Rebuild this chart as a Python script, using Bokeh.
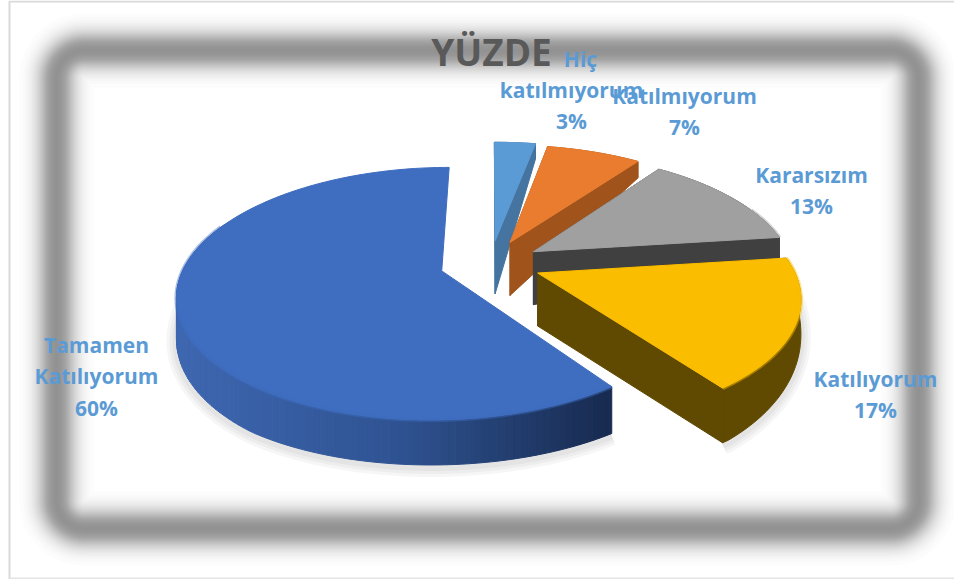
import math
from bokeh.plotting import figure
from bokeh.models import Range1d
from bokeh.core.properties import value
from bokeh.embed import file_html
from bokeh.resources import INLINE

# ---------- data ----------
title_text = "YÜZDE"
categories = ["Hiç katılmıyorum", "Katılmıyorum", "Kararsızım", "Katılıyorum", "Tamamen Katılıyorum"]
values = [3, 7, 13, 17, 60]
label_lines = ["katılmıyorum", "Katılmıyorum", "Kararsızım", "Katılıyorum", "Tamamen\nKatılıyorum"]
extra_line = "Hiç"
top_colors = ["#5b9bd5", "#e97c2e", "#a0a0a0", "#fbbd00", "#3f6dbf"]
wall_colors = ["#44749f", "#a0541c", "#404040", "#604900", "#1a2e55"]

# ---------- projection (page pixels) ----------
X0, Y0, A, B, K, EXPLODE = 490, 263, 267, 124.5, 0.186, 0.19
slice_radius = [1.0, 0.98, 0.97, 0.95, 0.96]
DEPTH_SLICE = [(-1.0, 15), (-0.1, 22), (0.3, 38), (0.8, 55), (1.0, 47)]
DEPTH_BLUE = [(-1.0, 15), (-0.1, 36), (0.3, 42), (0.8, 47), (1.0, 45)]


def proj(U, V):
    w = 1 - K * V
    return X0 + A * U / w, Y0 + B * V / w


def rim_depth(v, pts):
    for (a, da), (b, db) in zip(pts, pts[1:]):
        if v <= b:
            return da + (db - da) * (v - a) / (b - a)
    return pts[-1][1]


APEX_DEPTH = 53

p = figure(width=954, height=579, output_backend="svg", toolbar_location=None,
           x_range=Range1d(0, 954), y_range=Range1d(579, 0),
           min_border=0, outline_line_color=None, background_fill_color="white")
p.axis.visible = False
p.grid.visible = False

# blurred frame
L, T, R_, Bt, RAD = 56, 50, 918, 528, 28
fx, fy = [], []
for cx, cy, a0 in [(R_ - RAD, T + RAD, -90), (R_ - RAD, Bt - RAD, 0), (L + RAD, Bt - RAD, 90), (L + RAD, T + RAD, 180)]:
    for i in range(13):
        t = math.radians(a0 + 7.5 * i)
        fx.append(cx + RAD * math.cos(t))
        fy.append(cy + RAD * math.sin(t))
LAYER = 0.012
for i in range(1, 41):
    lvl = 1 - (1 - LAYER) ** i
    d = 20 * math.sqrt(max(-math.log(min(lvl / 0.385, 0.999)), 0.002))
    p.patch(fx, fy, fill_color=None, line_color="black", line_alpha=LAYER,
            line_width=max(2 * d, 1.5), line_join="round")

# page border of the picture
p.line([9, 9, 954], [579, 1, 1], line_color="#d9d9d9", line_width=2)
p.line([9, 954], [578, 578], line_color="#e4e4e4", line_width=2)

# slices
total = sum(values)
start = 0.0
slices = []
for val in values:
    end = start + val / total * 360
    slices.append((start, end))
    start = end


def arc_pts(idx, t0, t1, step=1.5):
    s0, s1 = slices[idx]
    mid = math.radians((s0 + s1) / 2)
    eu, ev = EXPLODE * math.sin(mid), -EXPLODE * math.cos(mid)
    r = slice_radius[idx]
    table = DEPTH_BLUE if idx == 4 else DEPTH_SLICE
    n = max(int((t1 - t0) / step), 1)
    out = []
    for i in range(n + 1):
        th = math.radians(t0 + (t1 - t0) * i / n)
        loc = -math.cos(th)
        x, y = proj(eu + r * math.sin(th), ev + r * loc)
        out.append((x, y, rim_depth(loc, table), loc))
    return out, proj(eu, ev)


# soft shadow under the two front slices
for idx in (4, 3):
    pts, _ = arc_pts(idx, *slices[idx])
    pts = [q for q in pts if q[3] > -0.4]
    sx = [q[0] for q in pts]
    sy = [q[1] + q[2] for q in pts]
    for w in (20, 14, 8):
        p.line(sx, [y + 2 for y in sy], line_color="black", line_alpha=0.035, line_width=w)

for idx in range(len(values)):
    t0, t1 = slices[idx]
    pts, (ax, ay) = arc_pts(idx, t0, t1)
    # outer rim
    if idx == 4:
        xs, ys, cols = [], [], []
        stops = [(173, (0x3f, 0x68, 0xb2)), (400, (0x2f, 0x53, 0x92)), (610, (0x18, 0x2b, 0x50))]
        for a, b in zip(pts, pts[1:]):
            if a[3] < -0.4:
                continue
            xs.append([a[0], b[0], b[0], a[0]])
            ys.append([a[1], b[1], b[1] + b[2], a[1] + a[2]])
            xm = (a[0] + b[0]) / 2
            c = stops[-1][1]
            for (x1, c1), (x2, c2) in zip(stops, stops[1:]):
                if xm <= x2:
                    f = max((xm - x1) / (x2 - x1), 0)
                    c = tuple(c1[k] + (c2[k] - c1[k]) * f for k in range(3))
                    break
            cols.append("#%02x%02x%02x" % tuple(int(v) for v in c))
        p.patches(xs, ys, fill_color=cols, line_color=cols, line_width=1)
    else:
        rx = [q[0] for q in pts] + [q[0] for q in reversed(pts)]
        ry = [q[1] for q in pts] + [q[1] + q[2] for q in reversed(pts)]
        p.patch(rx, ry, fill_color=wall_colors[idx], line_color=wall_colors[idx], line_width=1)
        # radial walls
        for q in (pts[0], pts[-1]):
            p.patch([ax, q[0], q[0], ax], [ay, q[1], q[1] + q[2], ay + APEX_DEPTH],
                    fill_color=wall_colors[idx], line_color=wall_colors[idx], line_width=1)
    # top face with soft bevel edge
    tx = [ax] + [q[0] for q in pts]
    ty = [ay] + [q[1] for q in pts]
    p.patch(tx, ty, fill_color=top_colors[idx], line_color=top_colors[idx], line_width=1, line_join="round")
    bevel = [q for q in pts if q[3] > -0.4]
    if bevel:
        p.line([q[0] for q in bevel], [q[1] for q in bevel], line_color=top_colors[idx], line_alpha=0.45, line_width=4)

# labels
FONT = value("Open Sans")
LABEL = "#5b9bd5"
pct = ["%d%%" % v for v in values]
label_x = [571, 684, 811, 875, 96]
label_y = [75, 81, 160, 364, 330]
for i in range(len(values)):
    p.text([label_x[i]], [label_y[i]], text=[label_lines[i] + "\n" + pct[i]], text_font=FONT,
           text_font_style="bold", text_font_size="21px", text_color=LABEL,
           text_align="center", text_baseline="top", text_line_height=1.13)
p.text([580], [44], text=[extra_line], text_font=FONT, text_font_style="bold", text_font_size="21px",
       text_color=LABEL, text_align="center", text_baseline="top")
p.text([491], [25], text=[title_text], text_font=FONT, text_font_style="bold", text_font_size="37px",
       text_color="#595959", text_align="center", text_baseline="top")

open("out.html", "w").write(file_html(p, INLINE))
